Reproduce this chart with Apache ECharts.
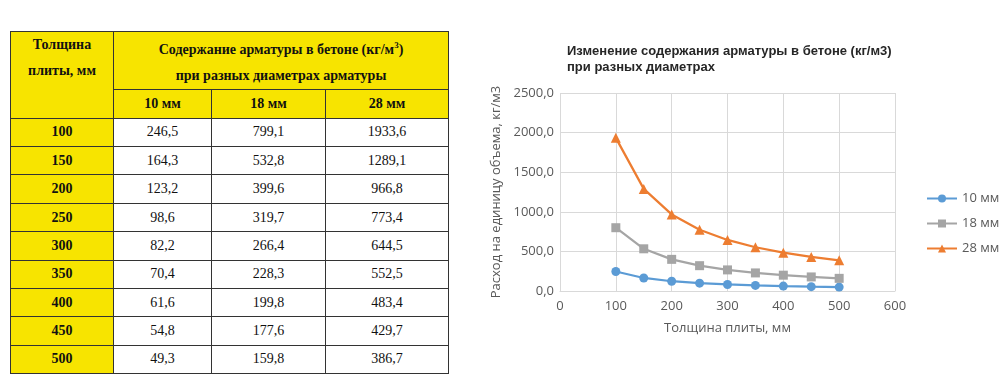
<!DOCTYPE html>
<html><head><meta charset="utf-8">
<script src="https://cdn.jsdelivr.net/npm/echarts@6/dist/echarts.min.js"></script>
<style>
html,body{margin:0;padding:0;background:#fff;width:1000px;height:380px;overflow:hidden;}
#tbl{position:absolute;left:10px;top:31px;border-collapse:collapse;font-family:"Liberation Serif","Times New Roman",serif;font-size:14px;color:#111;}
#tbl td{border:1.5px solid #333;text-align:center;padding:0;}
#tbl td.y{background:#F7E400;font-weight:bold;}
#chart{position:absolute;left:470px;top:0;width:530px;height:380px;}
</style></head>
<body>
<table id="tbl"></table>
<div id="chart"></div>
<script>
var thickness = [100,150,200,250,300,350,400,450,500];
var d10 = [246.5,164.3,123.2,98.6,82.2,70.4,61.6,54.8,49.3];
var d18 = [799.1,532.8,399.6,319.7,266.4,228.3,199.8,177.6,159.8];
var d28 = [1933.6,1289.1,966.8,773.4,644.5,552.5,483.4,429.7,386.7];
var seriesNames = ['10 мм','18 мм','28 мм'];
var colHead1 = 'Толщина<br>плиты, мм';
var colHead2 = 'Содержание арматуры в бетоне (кг/м<sup style="font-size:9px">3</sup>)<br>при разных диаметрах арматуры';
var chartTitle = 'Изменение содержания арматуры в бетоне (кг/м3)\nпри разных диаметрах';
var yName = 'Расход на единицу объема, кг/м3';
var xName = 'Толщина плиты, мм';

function fmt(v){ return v.toFixed(1).replace('.',','); }

// table
var t = document.getElementById('tbl');
var html = '<colgroup><col style="width:103px"><col style="width:98px"><col style="width:114px"><col style="width:123px"></colgroup>';
html += '<tr style="height:56px"><td class="y" rowspan="2" style="vertical-align:top;line-height:26px;padding-top:0px">'+colHead1+'</td><td class="y" colspan="3" style="line-height:26px">'+colHead2+'</td></tr>';
html += '<tr style="height:29px">';
seriesNames.forEach(function(n){ html += '<td class="y">'+n+'</td>'; });
html += '</tr>';
thickness.forEach(function(th,i){
  html += '<tr style="height:28.4px"><td class="y">'+th+'</td><td>'+fmt(d10[i])+'</td><td>'+fmt(d18[i])+'</td><td>'+fmt(d28[i])+'</td></tr>';
});
t.innerHTML = html;

// chart
var chart = echarts.init(document.getElementById('chart'), null, {renderer:'canvas'});
function pts(arr){ return thickness.map(function(x,i){ return [x, arr[i]]; }); }
var colors = ['#5B9BD5','#A5A5A5','#ED7D31'];
var symbols = ['circle','rect','triangle'];
var sizes = [9,9,10];
var datas = [d10,d18,d28];
var font = '"Open Sans","Liberation Sans",Arial,sans-serif';
chart.setOption({
  animation:false,
  color: colors,
  title:{text:chartTitle,left:92,top:38,textStyle:{fontFamily:'"Liberation Sans",Arial,sans-serif',fontSize:13,fontWeight:'bold',color:'#262626',lineHeight:16}},
  grid:{left:90,right:105,top:93,bottom:89},
  legend:{orient:'vertical',left:451,top:187,itemWidth:30,itemHeight:10,itemGap:12,
    textStyle:{fontFamily:font,fontSize:13,color:'#595959'},data:seriesNames},
  xAxis:{type:'value',min:0,max:600,interval:100,
    name:xName,nameLocation:'middle',nameGap:31,nameTextStyle:{fontFamily:font,fontSize:13,color:'#595959'},
    axisLine:{show:true,lineStyle:{color:'#d9d9d9'}},axisTick:{show:false},
    axisLabel:{fontFamily:font,fontSize:13,color:'#595959',margin:9},
    splitLine:{show:true,lineStyle:{color:'#d9d9d9'}}},
  yAxis:{type:'value',min:0,max:2500,interval:500,
    name:yName,nameLocation:'middle',nameGap:55,nameTextStyle:{fontFamily:font,fontSize:13,color:'#595959'},
    axisLine:{show:false},axisTick:{show:false},
    axisLabel:{fontFamily:font,fontSize:13,color:'#595959',margin:6,formatter:function(v){return fmt(v);}},
    splitLine:{show:true,lineStyle:{color:'#d9d9d9'}}},
  series: seriesNames.map(function(n,k){
    return {name:n,type:'line',data:pts(datas[k]),symbol:symbols[k],symbolSize:sizes[k],
      showAllSymbol:true,lineStyle:{width:2.25,color:colors[k]},itemStyle:{color:colors[k]}};
  })
});
</script>
</body></html>
